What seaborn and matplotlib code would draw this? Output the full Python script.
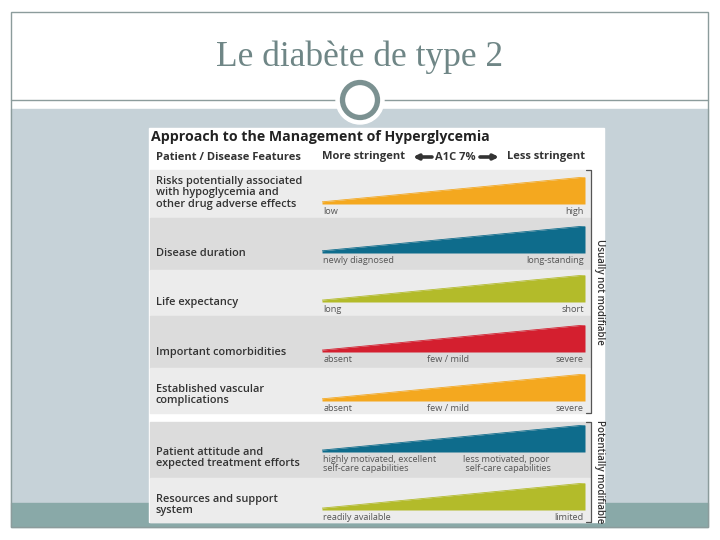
import matplotlib
matplotlib.use("Agg")
import matplotlib.pyplot as plt
import matplotlib.patches as mpatches
import seaborn as sns
import pandas as pd

# --- data -------------------------------------------------------------
features = [
    "Risks potentially associated\nwith hypoglycemia and\nother drug adverse effects",
    "Disease duration",
    "Life expectancy",
    "Important comorbidities",
    "Established vascular\ncomplications",
    "Patient attitude and\nexpected treatment efforts",
    "Resources and support\nsystem",
]
low_labels = ["low", "newly diagnosed", "long", "absent", "absent",
              "highly motivated, excellent\nself-care capabilities", "readily available"]
mid_labels = ["", "", "", "few / mild", "few / mild",
              "less motivated, poor\n self-care capabilities", ""]
high_labels = ["high", "long-standing", "short", "severe", "severe", "", "limited"]
start_level = [0.08, 0.08, 0.07, 0.07, 0.08, 0.07, 0.07]
end_level = [1.0, 1.0, 1.0, 1.0, 1.0, 1.0, 1.0]
bar_colors = ["#f4a81f", "#0e6c8c", "#b3bb2a", "#d41f2f", "#f4a81f", "#0e6c8c", "#b3bb2a"]
groups = ["Usually not modifiable", "Potentially modifiable"]
group_rows = [(0, 4), (5, 6)]

df = pd.DataFrame({
    "feature": [f for f in features for _ in range(2)],
    "position": [0, 1] * len(features),
    "level": [v for pair in zip(start_level, end_level) for v in pair],
})

# --- layout (pixels on the 720x540 slide) -----------------------------
W, H = 720, 540
row_bands = [(170, 218), (218, 270), (270, 316), (316, 368), (368, 413), (422, 478), (478, 522)]
tri_bottom = [204, 253, 302, 352, 401, 452, 510]
tri_h = 27
label_y = [193, 253, 302, 352, 395, 458, 505]
tri_x0, tri_x1 = 322, 585
mid_x = [0, 0, 0, 0.40, 0.40, 0.535, 0]

sns.set_theme(style="white")
plt.rcParams['font.family'] = ['Open Sans', 'DejaVu Sans']

fig = plt.figure(figsize=(7.2, 5.4), dpi=100)
bg = fig.add_axes([0, 0, 1, 1])
bg.set_xlim(0, W)
bg.set_ylim(H, 0)
bg.axis("off")

def box(x0, y0, x1, y1):
    return [x0 / W, 1 - y1 / H, (x1 - x0) / W, (y1 - y0) / H]

# slide decoration
bg.add_patch(mpatches.Rectangle((11, 109), 697, 394, color="#c6d2d8", zorder=1))
bg.add_patch(mpatches.Rectangle((11, 503), 697, 24, color="#89a9a8", zorder=1))
bg.add_patch(mpatches.Rectangle((11, 12), 697, 515, fill=False, ec="#8c9c9c", lw=1, zorder=5))
bg.plot([11, 708], [100, 100], color="#8c9c9c", lw=1, zorder=2)
bg.add_patch(mpatches.Circle((360, 100), 24, color="white", zorder=3))
bg.add_patch(mpatches.Circle((360, 100), 17.5, fill=False, ec="#7b9191", lw=3.8, zorder=4))
bg.text(360, 57, "Le diabète de type 2", family="Liberation Serif", fontsize=25.5,
        color="#6f8686", ha="center", va="center")

# chart panel
bg.add_patch(mpatches.Rectangle((149, 128), 455, 394, color="white", zorder=2))
bg.text(151, 137, "Approach to the Management of Hyperglycemia", fontsize=10.2,
        fontweight="bold", color="#222222", ha="left", va="center", zorder=6)
hdr = dict(fontsize=8, fontweight="bold", color="#333333", va="center", zorder=6)
bg.text(156, 157, "Patient / Disease Features", ha="left", **hdr)
bg.text(tri_x0, 157, "More stringent", ha="left", **hdr)
bg.text(455, 157, "A1C 7%", ha="center", **hdr)
bg.text(tri_x1, 157, "Less stringent", ha="right", **hdr)
arrow = dict(arrowstyle="-|>", lw=2.6, color="#333333", mutation_scale=7, shrinkA=0, shrinkB=0)
bg.annotate("", xy=(413, 157), xytext=(432, 157), arrowprops=arrow, zorder=6)
bg.annotate("", xy=(499, 157), xytext=(480, 157), arrowprops=arrow, zorder=6)

for i, (y0, y1) in enumerate(row_bands):
    shade = "#ececec" if i % 2 == 0 else "#dcdcdc"
    bg.add_patch(mpatches.Rectangle((150, y0), 440, y1 - y0, color=shade, zorder=3))
    bg.text(156, label_y[i], features[i], fontsize=7.9, fontweight="semibold",
            color="#333333", ha="left", va="center", linespacing=1.1, zorder=6)

# brackets + group labels
for name, (r0, r1) in zip(groups, group_rows):
    ya, yb = row_bands[r0][0], row_bands[r1][1]
    bg.plot([586, 591, 591, 586], [ya, ya, yb, yb], color="#555555", lw=0.9, zorder=6)
    bg.text(599, (ya + yb) / 2, name, rotation=-90, fontsize=7.0, fontweight="semibold",
            color="#333333", ha="center", va="center", zorder=6)

# wedges
scale_kw = dict(fontsize=6.6, color="#555555", va="top", textcoords="offset points",
                linespacing=1.0)
for i, feat in enumerate(features):
    ax = fig.add_axes(box(tri_x0, tri_bottom[i] - tri_h, tri_x1, tri_bottom[i]))
    ax.set_xlim(0, 1)
    ax.set_ylim(0, 1)
    ax.patch.set_alpha(0)
    ax.set_zorder(5)
    sub = df[df["feature"] == feat]
    ax.fill_between(sub["position"], 0, sub["level"], color=bar_colors[i], lw=0)
    sns.lineplot(data=sub, x="position", y="level", color=bar_colors[i], lw=0.6, ax=ax)
    ax.axis("off")
    ax.annotate(low_labels[i], xy=(0, 0), xytext=(1, -2.5), ha="left", **scale_kw)
    ax.annotate(high_labels[i], xy=(1, 0), xytext=(-1, -2.5), ha="right", **scale_kw)
    if mid_labels[i]:
        ax.annotate(mid_labels[i], xy=(mid_x[i], 0), xytext=(0, -2.5), ha="left", **scale_kw)

fig.savefig("out.png", dpi=100)
